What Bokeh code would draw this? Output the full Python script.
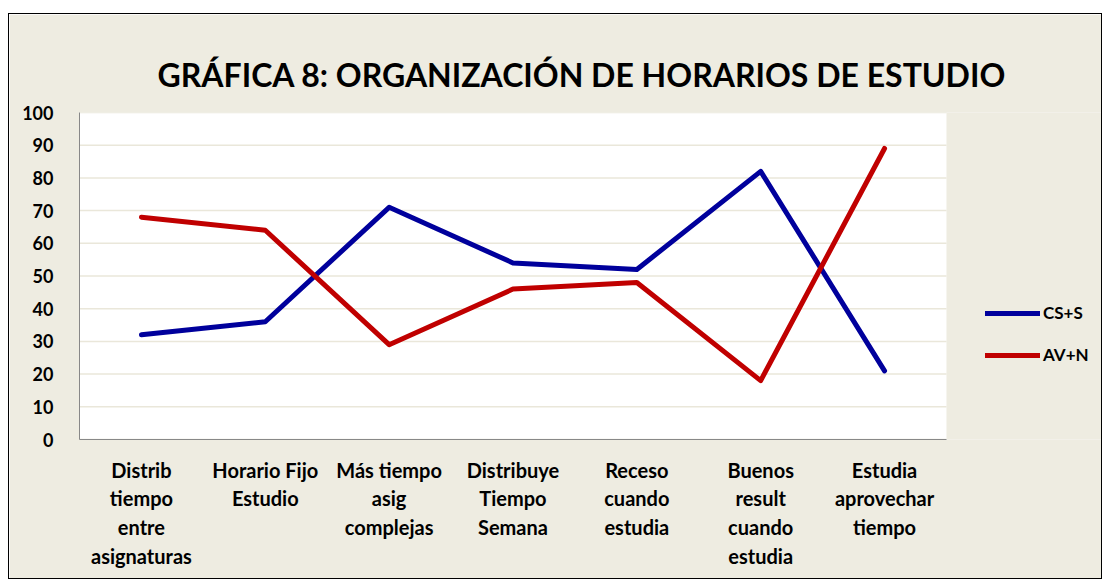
from bokeh.plotting import figure
from bokeh.models import Range1d, FixedTicker, Legend, LegendItem, Title, BoxAnnotation
from bokeh.embed import file_html
from bokeh.resources import INLINE

categories = ["Distrib\ntiempo\nentre\nasignaturas", "Horario Fijo\nEstudio",
              "Más tiempo\nasig\ncomplejas", "Distribuye\nTiempo\nSemana",
              "Receso\ncuando\nestudia", "Buenos\nresult\ncuando\nestudia",
              "Estudia\naprovechar\ntiempo"]
cs_s = [32, 36, 71, 54, 52, 82, 21]
av_n = [68, 64, 29, 46, 48, 18, 89]
y_ticks = [0, 10, 20, 30, 40, 50, 60, 70, 80, 90, 100]
title_text = "GRÁFICA 8: ORGANIZACIÓN DE HORARIOS DE ESTUDIO"

FONT = "Lato"
BG = "#EEECE1"
n = len(categories)
xs = list(range(n))
x_lo, x_hi = -0.5, n - 0.5

p = figure(width=1094, height=566, output_backend="svg", toolbar_location=None,
           x_range=Range1d(x_lo, 7.768), y_range=Range1d(0, 100),
           min_border_left=70, min_border_top=98, min_border_right=0, min_border_bottom=141)
p.styles = {"border": "1px solid black", "margin-left": "8px", "margin-top": "13px"}
p.background_fill_color = BG
p.border_fill_color = BG
p.outline_line_color = None

p.title = Title(text=title_text, text_font=FONT, text_font_style="bold",
                text_font_size="32px", align="left", offset=78, standoff=37,
                text_color="black")

# white plot area
p.add_layout(BoxAnnotation(left=x_lo, right=x_hi, bottom=0, top=100,
                           fill_color="white", fill_alpha=1, line_color=None,
                           level="underlay"))
p.xgrid.visible = False
p.ygrid.visible = False
p.segment(x0=[x_lo] * len(y_ticks), x1=[x_hi] * len(y_ticks), y0=y_ticks, y1=y_ticks,
          line_color="#EAE7DA", line_width=1.5)

r1 = p.line(xs, cs_s, line_color="#00009C", line_width=5, line_join="round", line_cap="round")
r2 = p.line(xs, av_n, line_color="#C00000", line_width=5, line_join="round", line_cap="round")

p.yaxis.ticker = FixedTicker(ticks=y_ticks)
p.xaxis.ticker = FixedTicker(ticks=xs)
p.xaxis.bounds = (x_lo, x_hi)
p.xaxis.major_label_overrides = {i: c for i, c in zip(xs, categories)}
for ax in (p.xaxis, p.yaxis):
    ax.axis_line_color = "#888888"
    ax.major_tick_line_color = None
    ax.minor_tick_line_color = None
    ax.major_label_text_font = FONT
    ax.major_label_text_font_style = "bold"
    ax.major_label_text_color = "black"
p.yaxis.major_label_text_font_size = "18px"
p.yaxis.major_label_standoff = 20
p.xaxis.major_label_text_font_size = "20px"
p.xaxis.major_label_standoff = 12

legend = Legend(items=[LegendItem(label="CS+S", renderers=[r1]),
                       LegendItem(label="AV+N", renderers=[r2])],
                location=(906, 74), padding=0, margin=0, spacing=21,
                glyph_width=55, glyph_height=20, label_height=20, label_standoff=3,
                label_text_font=FONT, label_text_font_style="bold", label_text_font_size="17px",
                label_text_color="black",
                background_fill_alpha=0, border_line_color=None)
p.add_layout(legend, "center")

open("out.html", "w").write(file_html(p, INLINE))
